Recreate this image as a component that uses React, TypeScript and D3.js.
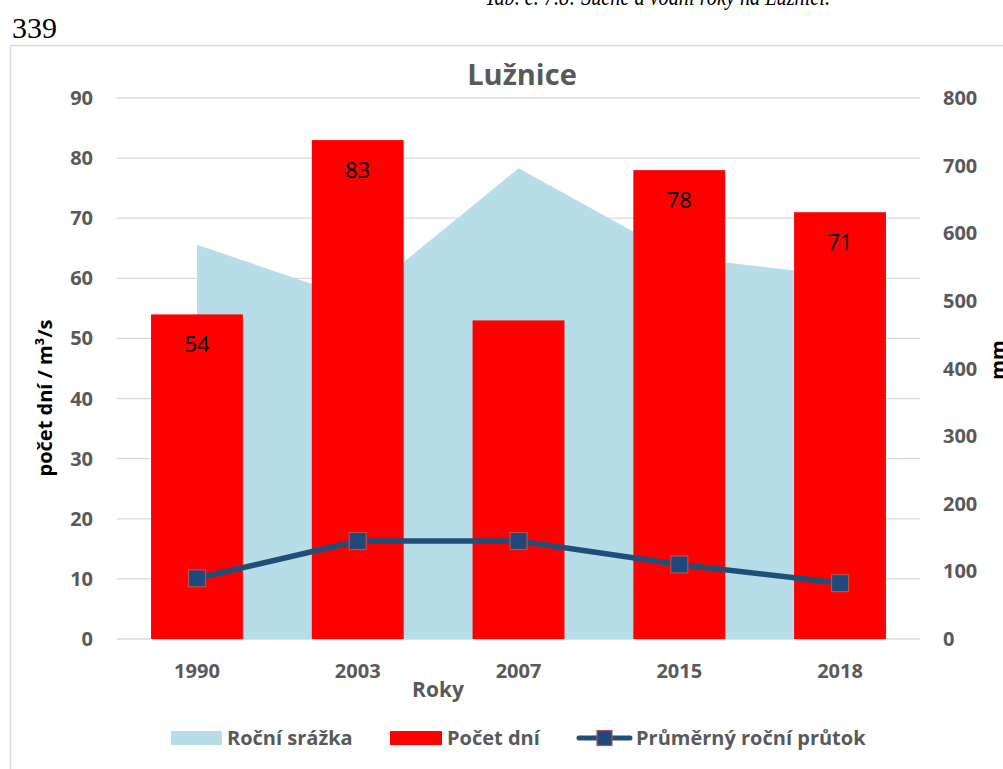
import React from "react";
import * as d3 from "d3";

const categories = ["1990", "2003", "2007", "2015", "2018"];
const srazka = [583, 502, 696, 565, 537]; // mm, right axis
const pocetDni = [54, 83, 53, 78, 71]; // left axis
const prutok = [10.1, 16.3, 16.3, 12.4, 9.3]; // left axis
const labelShown = [true, true, false, true, true];
const leftTicks = [0, 10, 20, 30, 40, 50, 60, 70, 80, 90];
const rightTicks = [0, 100, 200, 300, 400, 500, 600, 700, 800];

const W = 1003;
const H = 769;
const FONT = "'Open Sans', 'Noto Sans', sans-serif";
const GREY = "#595959";

export default function App() {
  const x = d3.scaleBand<string>().domain(categories).range([116.6, 920.4]).padding(0);
  const yL = d3.scaleLinear().domain([0, 90]).range([639, 98]);
  const yR = d3.scaleLinear().domain([0, 800]).range([639, 98]);
  const cx = (c: string) => (x(c) as number) + x.bandwidth() / 2;
  const barW = x.bandwidth() / 1.75;

  const area = d3
    .area<number>()
    .x((_, i) => cx(categories[i]))
    .y0(yR(0))
    .y1((d) => yR(d));
  const line = d3
    .line<number>()
    .x((_, i) => cx(categories[i]))
    .y((d) => yL(d));

  const [x0, x1] = x.range();
  const ms = 17;

  return (
    <svg
      width={W}
      height={H}
      style={{ position: "absolute", left: 0, top: 0, background: "#fff" }}
      xmlns="http://www.w3.org/2000/svg"
    >
      <rect x={0} y={0} width={W} height={H} fill="#fff" />
      <text
        x={485}
        y={5}
        fontFamily="'Liberation Serif', 'Times New Roman', serif"
        fontStyle="italic"
        fontSize={26}
        textLength={345}
        lengthAdjust="spacingAndGlyphs"
        fill="#000"
      >
        Tab. č. 7.8: Suché a vodní roky na Lužnici.
      </text>
      <text x={12} y={38} fontFamily="'Liberation Serif', 'Times New Roman', serif" fontSize={30} fill="#000">
        339
      </text>
      <rect x={10.5} y={45.5} width={1010} height={740} fill="#fff" stroke="#D9D9D9" strokeWidth={1.5} />

      <text x={522} y={85} textAnchor="middle" fontFamily={FONT} fontWeight="bold" fontSize={29} fill={GREY}>
        Lužnice
      </text>

      {leftTicks.map((t) => (
        <line key={"g" + t} x1={x0} x2={x1} y1={yL(t)} y2={yL(t)} stroke="#D9D9D9" strokeWidth={1.3} />
      ))}

      <path d={area(srazka) as string} fill="#B7DDE8" />

      {pocetDni.map((v, i) => (
        <rect key={"b" + i} x={cx(categories[i]) - barW / 2} y={yL(v)} width={barW} height={yL(0) - yL(v)} fill="#FF0000" />
      ))}
      {pocetDni.map((v, i) =>
        labelShown[i] ? (
          <text
            key={"l" + i}
            x={cx(categories[i])}
            y={yL(v) + 38}
            textAnchor="middle"
            fontFamily={FONT}
            fontSize={22}
            fill="#000"
          >
            {v}
          </text>
        ) : null
      )}

      <path d={line(prutok) as string} fill="none" stroke="#1F4E79" strokeWidth={5.5} strokeLinejoin="round" />
      {prutok.map((v, i) => (
        <rect
          key={"m" + i}
          x={cx(categories[i]) - ms / 2}
          y={yL(v) - ms / 2}
          width={ms}
          height={ms}
          fill="#1F497D"
          stroke="#B5504D"
          strokeWidth={1.2}
        />
      ))}

      {leftTicks.map((t) => (
        <text
          key={"lt" + t}
          x={93}
          y={yL(t) + 7}
          textAnchor="end"
          fontFamily={FONT}
          fontWeight="bold"
          fontSize={20}
          fill={GREY}
        >
          {t}
        </text>
      ))}
      {rightTicks.map((t) => (
        <text key={"rt" + t} x={943} y={yR(t) + 7} fontFamily={FONT} fontWeight="bold" fontSize={20} fill={GREY}>
          {t}
        </text>
      ))}
      {categories.map((c) => (
        <text
          key={"x" + c}
          x={cx(c)}
          y={678}
          textAnchor="middle"
          fontFamily={FONT}
          fontWeight="bold"
          fontSize={20}
          fill={GREY}
        >
          {c}
        </text>
      ))}
      <text x={438} y={697} textAnchor="middle" fontFamily={FONT} fontWeight="bold" fontSize={21} fill={GREY}>
        Roky
      </text>

      <text
        transform="translate(52,398) rotate(-90)"
        textAnchor="middle"
        fontFamily={FONT}
        fontWeight="bold"
        fontSize={20}
        fill="#000"
      >
        počet dní / m³/s
      </text>
      <text
        transform="translate(1005,360) rotate(-90)"
        textAnchor="middle"
        fontFamily={FONT}
        fontWeight="bold"
        fontSize={20}
        fill="#000"
      >
        mm
      </text>

      {/* legend */}
      <rect x={171} y={731} width={51} height={14} fill="#B7DDE8" />
      <text x={227} y={745} fontFamily={FONT} fontWeight="bold" fontSize={20} fill={GREY}>
        Roční srážka
      </text>
      <rect x={390} y={731} width={52} height={14} fill="#FF0000" />
      <text x={447} y={745} fontFamily={FONT} fontWeight="bold" fontSize={20} fill={GREY}>
        Počet dní
      </text>
      <line x1={579} x2={630} y1={738} y2={738} stroke="#1F4E79" strokeWidth={5} strokeLinecap="round" />
      <rect x={597} y={730.5} width={15} height={15} fill="#1F497D" stroke="#B5504D" strokeWidth={1.2} />
      <text x={636} y={745} fontFamily={FONT} fontWeight="bold" fontSize={20} fill={GREY}>
        Průměrný roční průtok
      </text>
    </svg>
  );
}
